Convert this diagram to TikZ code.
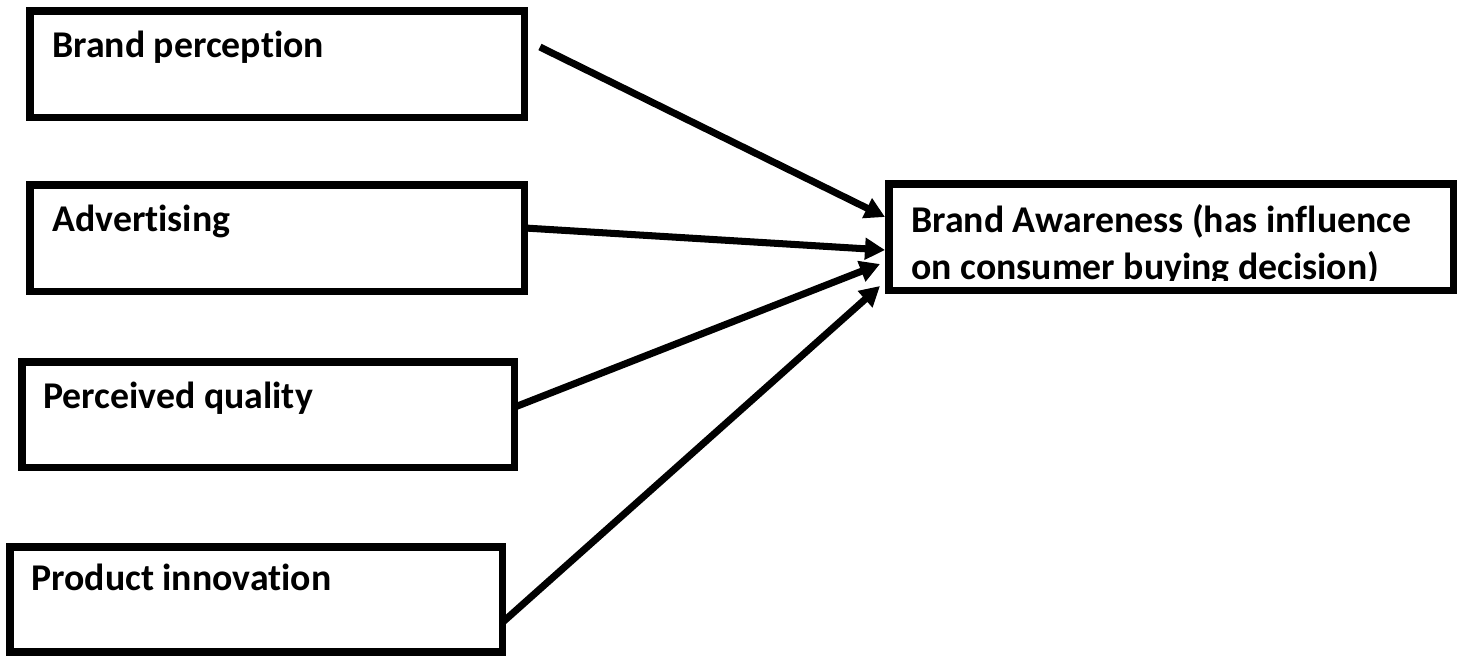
\documentclass[tikz,border=0pt]{standalone}
\usepackage{fontspec}
\setmainfont{Carlito}[Ligatures=NoCommon]
\usepackage{tikz}
\usetikzlibrary{arrows.meta,positioning,calc}

\begin{document}
\begin{tikzpicture}[
    x=0.02cm, y=-0.02cm,
    box/.style={rectangle, draw, line width=4pt, anchor=north west, outer sep=0pt, inner sep=0pt, minimum width=9.9cm, minimum height=2.14cm},
    label/.style={anchor=base west, inner sep=0pt, font=\bfseries\fontsize{21.5}{27.3}\selectfont},
    arrow/.style={-{Triangle[length=0.4cm, width=0.42cm]}, line width=4pt}
]
    \useasboundingbox (0,0) rectangle (1464,656);

    % Factors
    \node[box] (perception) at (30,11) {};
    \node[box] (advertising) at (30,185) {};
    \node[box, minimum width=9.86cm, minimum height=2.12cm] (quality) at (22,362) {};
    \node[box, minimum width=9.86cm, minimum height=2.1cm] (innovation) at (10,547) {};

    \node[label] (perceptiontext) at ([shift={(22,46)}]perception.north west) {Brand perception};
    \node[label] (advertisingtext) at ([shift={(22,46)}]advertising.north west) {Advertising};
    \node[label] (qualitytext) at ([shift={(21,46)}]quality.north west) {Perceived quality};
    \node[label] (innovationtext) at ([shift={(21,43)}]innovation.north west) {Product innovation};

    % Outcome
    \node[box, minimum width=11.3cm] (awareness) at (889,184) {};
    \begin{scope}
        \clip (awareness.north west) rectangle ([shift={(0,-10)}]awareness.south east);
        \node[label, text width=11cm, align=left] (awarenesstext) at ([shift={(22,48)}]awareness.north west) {\spaceskip=0.226em\relax Brand Awareness (has influence\\on consumer buying decision)};
    \end{scope}

    % Arrows
    \draw[arrow] ([shift={(15,36)}]perception.north east) -- ([shift={(-4,33)}]awareness.north west);
    \draw[arrow] ([shift={(0,43)}]advertising.north east) -- ([shift={(-4,66)}]awareness.north west);
    \draw[arrow] ([shift={(0,45)}]quality.north east) -- ([shift={(-9,80)}]awareness.north west);
    \draw[arrow] ([shift={(0,75)}]innovation.north east) -- ([shift={(-9,102)}]awareness.north west);
\end{tikzpicture}
\end{document}
